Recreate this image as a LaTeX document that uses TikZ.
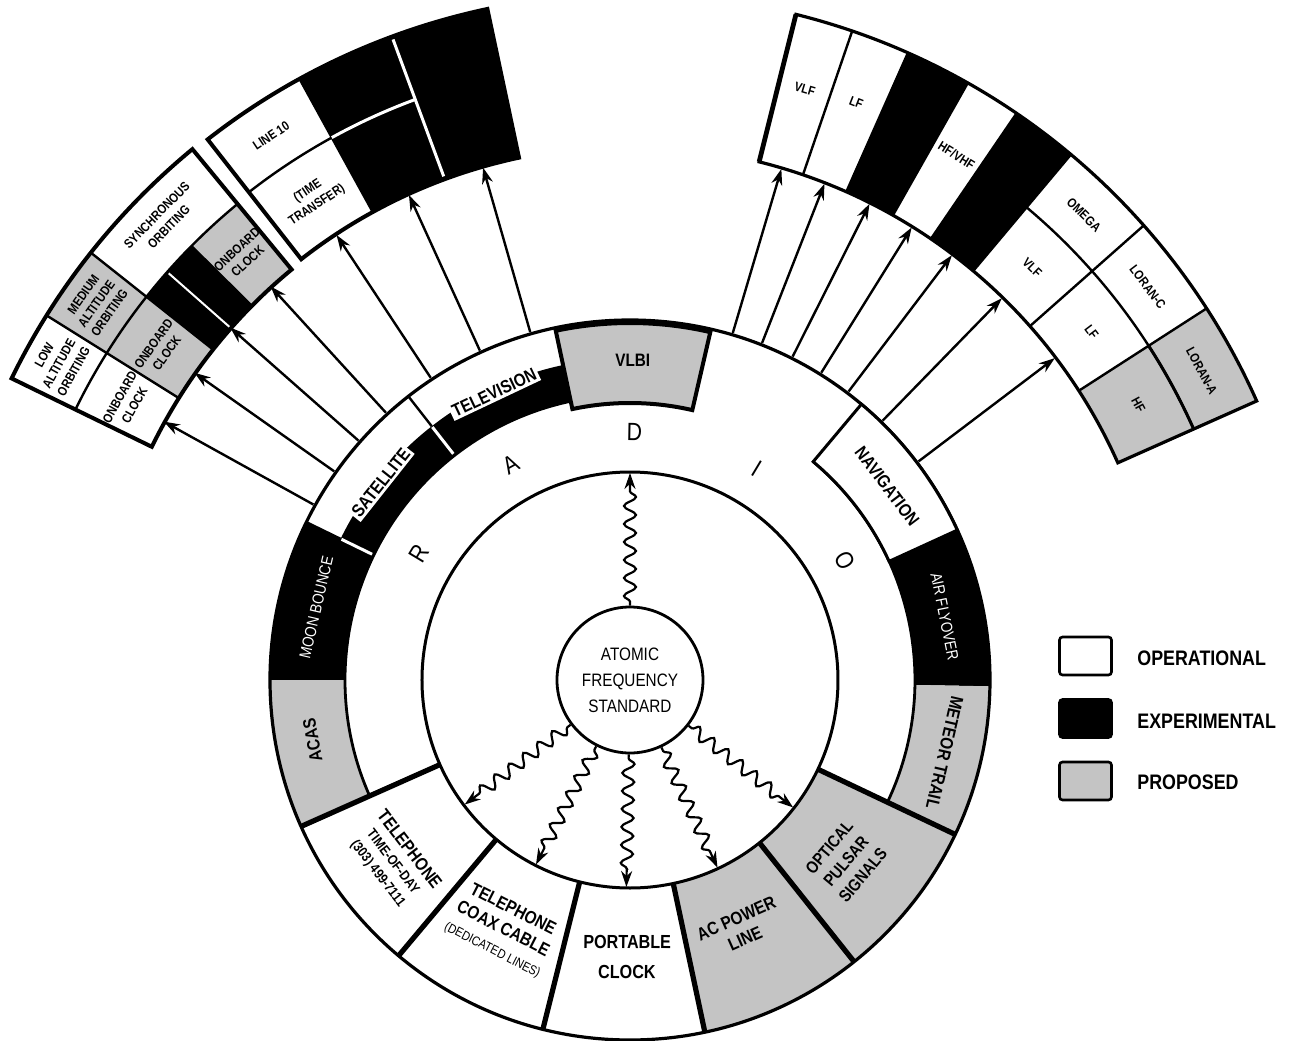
\documentclass[tikz,border=0pt]{standalone}
\usepackage{fontspec}
\setmainfont{Liberation Sans}[FakeStretch=0.85]
\usetikzlibrary{arrows.meta,decorations.pathmorphing}
\newcommand\annsec[5]{%
  \path[#1] (#2:#4) arc[start angle=#2, end angle=#3, radius=#4] -- (#3:#5) arc[start angle=#3, end angle=#2, radius=#5] -- cycle;}
\begin{document}
\begin{tikzpicture}[x=0.5pt,y=0.5pt,
  gfill/.style={fill=black!23},
  bfill/.style={fill=black},
  thinl/.style={line width=1.2pt},
  boxb/.style={line width=2pt},
  arr/.style={line width=1.2pt,-{Stealth[length=8pt,width=5.5pt]}},
  wavy/.style={line width=1.1pt,-{Stealth[length=8pt,width=5.5pt]},decorate,
     decoration={snake,amplitude=3pt,segment length=9pt,pre length=2pt,post length=9pt}},
  ringlab/.style={font=\bfseries\fontsize{9}{10}\selectfont,inner sep=1.2pt,align=center},
  whitelab/.style={font=\fontsize{8}{9}\selectfont,text=white,inner sep=1pt},
  botlab/.style={font=\bfseries\fontsize{9}{11}\selectfont,align=center,inner sep=1pt},
  radiol/.style={font=\fontsize{12.5}{12.5}\selectfont,inner sep=0pt},
  cellt/.style={font=\bfseries\fontsize{6.5}{8.4}\selectfont,align=center,inner sep=0pt},
  cellg/.style={font=\bfseries\fontsize{6.5}{8}\selectfont,align=center,inner sep=0pt},
  leg/.style={font=\bfseries\fontsize{10.5}{12}\selectfont,anchor=west,inner sep=0pt},
  legbox/.style={draw,line width=1.3pt,rounded corners=1.5pt,minimum width=26pt,minimum height=19pt,inner sep=0pt}]
\useasboundingbox (-630,-360) rectangle (672,680);
\fill[white] (-630,-360) rectangle (672,680);

% ---------------- Satellite box ----------------
\annsec{gfill}{141.6}{148}{532}{688}
\annsec{gfill}{129.5}{135.3}{532}{617}
\annsec{bfill}{135.3}{141.6}{532}{617}
\draw[thinl] (129.5:617) arc[start angle=129.5,end angle=154,radius=617];
\draw[thinl] (148:532) -- (148:688);
\draw[thinl] (141.6:532) -- (141.6:688);
\draw[thinl] (135.3:532) -- (135.3:617);
\draw[white,line width=1pt] (138.6:534) -- (138.6:615);
\annsec{draw,boxb}{129.5}{154}{532}{688}
\node[cellt,rotate=61] (low) at (151:653) {LOW\\ALTITUDE\\ORBITING};
\node[cellg,rotate=54.8] (med) at (144.8:653) {MEDIUM\\ALTITUDE\\ORBITING};
\node[cellt,rotate=45.5] (syn) at (135.5:655) {SYNCHRONOUS\\ORBITING};
\node[cellt,rotate=61] (ob1) at (151:575) {ONBOARD\\CLOCK};
\node[cellg,rotate=54.8] (ob2) at (144.8:575) {ONBOARD\\CLOCK};
\node[cellg,rotate=42.4] (ob3) at (132.4:575) {ONBOARD\\CLOCK};

% ---------------- Television box ----------------
\annsec{bfill}{102}{118.8}{534}{686}
\draw[thinl] (118.8:619) arc[start angle=118.8,end angle=128,radius=619];
\draw[thinl] (118.8:534) -- (118.8:686);
\draw[white,line width=1.5pt] (110.3:537) -- (110.3:683);
\draw[white,line width=1.5pt] (110.3:619) arc[start angle=110.3,end angle=118.8,radius=619];
\annsec{draw,boxb}{102}{128}{534}{686}
\node[cellt,rotate=33.4] (l10) at (123.4:652) {LINE 10};
\node[cellt,rotate=33.4] (tt) at (123.4:577) {(TIME\\TRANSFER)};

% ---------------- Navigation box ----------------
\annsec{bfill}{60.5}{66.1}{534}{686}
\annsec{bfill}{50}{55.7}{534}{686}
\annsec{gfill}{24}{32.8}{534}{686}
\foreach \a in {71.1,66.1,60.5,55.7,50,41.5,32.8} {\draw[thinl] (\a:534) -- (\a:686);}
\draw[thinl] (24:617) arc[start angle=24,end angle=50,radius=617];
\draw[line width=1.5pt] (24:617) arc[start angle=24,end angle=32.8,radius=617];
\annsec{draw,line width=1.6pt}{24}{76}{534}{686}
\draw[line width=2.4pt] (76:534) -- (76:686);
\node[cellt,rotate=-16.5] (vlf1) at (73.5:616) {VLF};
\node[cellt,rotate=-21.4] (lf1) at (68.6:620) {LF};
\node[cellt,rotate=-31.9] (hf1) at (58.1:618) {HF/VHF};
\node[cellt,rotate=-44.3] (om) at (45.7:650) {OMEGA};
\node[cellt,rotate=-44.3] (vlf2) at (45.7:576) {VLF};
\node[cellt,rotate=-52.8] (lc) at (37.2:650) {LORAN-C};
\node[cellt,rotate=-52.8] (lf2) at (37:578) {LF};
\node[cellg,rotate=-61.6] (la) at (28.4:650) {LORAN-A};
\node[cellg,rotate=-61.6] (hf2) at (28.4:578) {HF};

% ---------------- Ring fills ----------------
\annsec{bfill}{-1}{24.6}{285}{360}
\annsec{bfill}{154}{180}{285}{360}
\annsec{bfill}{102}{154}{285}{322}
\annsec{gfill}{180}{204}{285}{360}
\annsec{gfill}{334.6}{359}{285}{360}
\annsec{gfill}{282}{334.6}{208}{360}

% ---------------- Ring lines ----------------
\draw[line width=1.6pt] (0,0) circle[radius=360];
\draw[line width=1.5pt] (0,0) circle[radius=208];
\draw[line width=1.4pt] (-25.4:285) arc[start angle=-25.4,end angle=50,radius=285];
\draw[line width=1.4pt] (102:285) arc[start angle=102,end angle=204,radius=285];
\annsec{draw,fill=white,line width=1.5pt}{24.6}{50}{285}{360}
\foreach \a in {128,154} {
  \draw[thinl] (\a:322) -- (\a:360);
  \draw[white,line width=1.5pt] (\a:287) -- (\a:321);}
\annsec{gfill,draw,line width=2pt}{77}{102}{277}{357}
\foreach \a in {204,230,256,282,308.5,334.6} {\draw[line width=2.6pt] (\a:208) -- (\a:360);}

% ---------------- Ring labels ----------------
\node[ringlab,fill=white,rotate=51.6] (satl) at (141.6:318) {SATELLITE};
\node[ringlab,fill=white,rotate=25.3] (tvl) at (115.3:318) {TELEVISION};
\node[ringlab] (vlbi) at (89.5:320) {VLBI};
\node[ringlab,rotate=-53] (nav) at (37:322) {NAVIGATION};
\node[whitelab,rotate=-78.6] (air) at (11.4:321) {AIR FLYOVER};
\node[ringlab,rotate=-103] (met) at (347:323) {METEOR TRAIL};
\node[whitelab,rotate=77] (moon) at (167:322) {MOON BOUNCE};
\node[ringlab,rotate=100.7] (acas) at (190.7:323) {ACAS};

\node[botlab,rotate=-52.5,font=\bfseries\fontsize{7}{9.5}\selectfont] (tel) at (217.5:298)
  {{\fontsize{9}{9}\selectfont TELEPHONE}\\TIME-OF-DAY\\(303) 499-7111};
\node[botlab,rotate=-27,font=\bfseries\fontsize{6.5}{11}\selectfont] (coax) at (243:280)
  {{\fontsize{9}{9}\selectfont TELEPHONE}\\{\fontsize{9}{9}\selectfont COAX CABLE}\\{\mdseries(DEDICATED LINES)}};
\node[botlab,font=\bfseries\fontsize{9.5}{15}\selectfont,rotate=-0.6] (port) at (269.4:277) {PORTABLE\\CLOCK};
\node[botlab,rotate=24] (acp) at (294:272) {AC POWER\\LINE};
\node[botlab,font=\bfseries\fontsize{8.5}{11}\selectfont,rotate=50] (opt) at (320:282) {OPTICAL\\PULSAR\\SIGNALS};

\node[radiol,rotate=59] (rR) at (149:246) {R};
\node[radiol,rotate=29] (rA) at (119:246) {A};
\node[radiol,rotate=-1] (rD) at (89:248) {D};
\node[radiol,rotate=-31] (rI) at (59:246) {I};
\node[radiol,rotate=-61] (rO) at (29:246) {O};

% ---------------- Atomic frequency standard ----------------
\node[circle,draw,line width=1.4pt,minimum size=73pt,fill=white,align=center,
      font=\fontsize{9}{13}\selectfont] (afs) at (0,0) {ATOMIC\\FREQUENCY\\STANDARD};
\foreach \a [count=\i] in {90,217,243,269,295,322} {
  \coordinate (w\i) at (\a:207);
  \draw[wavy] (afs.\a) -- (w\i);}

% ---------------- Arrows to the boxes ----------------
\foreach \a [count=\i] in {132.4,138.6,144.8,151,123.4,114.5,106,73.5,68.6,63.3,58.1,52.85,45.75,37.15} {
  \coordinate (t\i) at (\a:362);
  \coordinate (h\i) at (\a:533);
  \draw[arr] (t\i) -- (h\i);}

% ---------------- Legend ----------------
\node[legbox] (lg1) at (455.5,24) {};
\node[legbox,fill=black] (lg2) at (455.5,-38.5) {};
\node[legbox,fill=black!23] (lg3) at (455.5,-101) {};
\node[leg] (lt1) at (507,22) {OPERATIONAL};
\node[leg] (lt2) at (507,-41) {EXPERIMENTAL};
\node[leg] (lt3) at (507,-102) {PROPOSED};
\end{tikzpicture}
\end{document}
